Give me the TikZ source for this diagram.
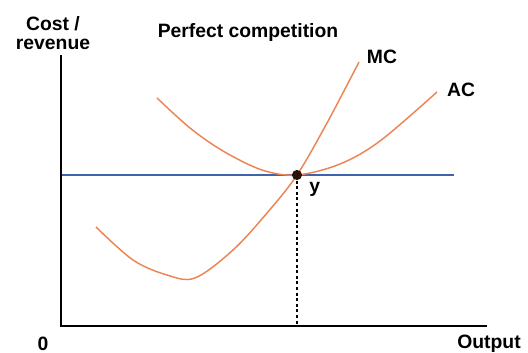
\documentclass[tikz,border=0pt]{standalone}
\usepackage{fontspec}
\setsansfont{Liberation Sans}
\usepackage{tikz}
\usetikzlibrary{positioning}

\definecolor{costorange}{RGB}{236,132,84}
\definecolor{priceblue}{RGB}{62,100,172}
\definecolor{dotbrown}{RGB}{40,20,10}

\begin{document}
\begin{tikzpicture}[x=0.75pt, y=-0.75pt,
		lbl/.style={font=\sffamily\bfseries\fontsize{14.5}{14.3}\selectfont, inner sep=0pt},
		axis/.style={line width=2.2pt},
		costcurve/.style={draw=costorange, line width=1.1pt},
		priceline/.style={draw=priceblue, line width=1.1pt},
		guide/.style={line width=1.1pt, dash pattern=on 2.2pt off 2pt}]
				\useasboundingbox (0,0) rectangle (528,353);
				
				% labels
				\node[lbl, align=center] (costrev) at (53,33) {Cost /\\revenue};
				\node[lbl] (title) at (248,33) {Perfect competition};
				\node[lbl] (mclab) at (382,57) {MC};
				\node[lbl] (aclab) at (461,90) {AC};
				\node[lbl] (zero) at (43,344) {0};
				\node[lbl] (outlab) at (489,344) {Output};
				
				% axes
				\coordinate (origin) at (61,326);
				\coordinate (ytop) at (61,55);
				\coordinate (xend) at (487,326);
				\draw[axis] (ytop) -- (origin) -- (xend);
				
				% price line and equilibrium
				\coordinate (eq) at (297,175);
				\coordinate (eqfoot) at (297,326);
				\coordinate (pstart) at (62,175);
				\coordinate (pend) at (454,175);
				\draw[guide] (eq) -- (eqfoot);
				\draw[priceline] (pstart) -- (pend);
				
				% cost curves
				\draw[costcurve] plot[smooth, tension=0.55] coordinates {(157,98) (190,128) (223,151) (262,170) (297,175) (340,164) (380,141) (437,92)};
				\draw[costcurve] plot[smooth, tension=0.55] coordinates {(96,227) (133,260) (167,275) (195,278) (233,250) (267,213) (297,175) (327,123) (359,62)};
				
				\fill[dotbrown] (eq) circle (3.8pt);
				\node[lbl, below right=5pt and 9pt of eq] (ylab) {y};
			\end{tikzpicture}
\end{document}
